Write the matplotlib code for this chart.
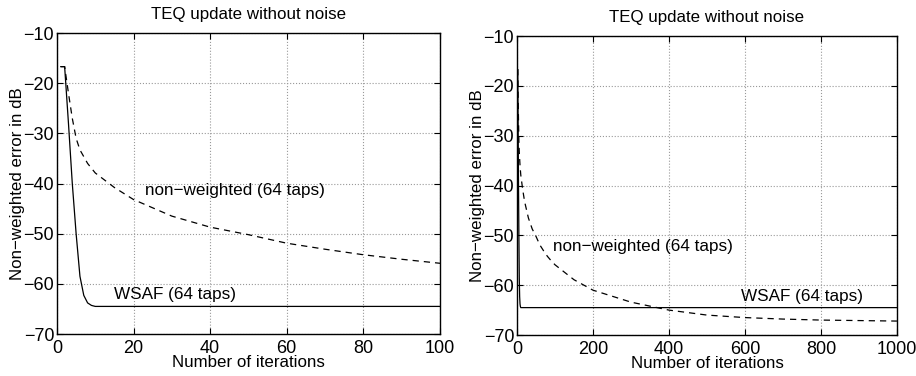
import matplotlib
matplotlib.use('Agg')
import matplotlib.pyplot as plt

plt.rcParams['font.family'] = ['Liberation Sans', 'DejaVu Sans']

# WSAF (64 taps), solid
wsaf_it = [1, 2, 3, 4, 5, 6, 7, 8, 9, 10, 12, 100, 1000]
wsaf_db = [-16.7, -16.7, -28, -40, -50, -58.5, -62.3, -63.8, -64.3, -64.5, -64.5, -64.5, -64.5]

# non-weighted (64 taps), dashed
nw_it = [1, 2, 3, 4, 5, 6, 8, 10, 15, 20, 30, 40, 50, 60, 70, 80, 90, 100,
         150, 200, 300, 400, 500, 600, 700, 800, 900, 1000]
nw_db = [-16.7, -16.7, -22, -27, -31, -33.3, -36, -37.9, -40.8, -43.2, -46.5, -48.7,
         -50.2, -51.9, -53.1, -54.2, -55.1, -55.9, -58.9, -61.0, -63.4, -65.0,
         -66.0, -66.5, -66.8, -67.0, -67.1, -67.2]

titles = ['TEQ update without noise', 'TEQ update without noise']
xlims = [(0, 100), (0, 1000)]
nw_label_pos = [(23, -41.3), (94, -52.2)]
wsaf_label_pos = [(15, -62.2), (590, -62.2)]

fig = plt.figure(figsize=(9.16, 3.76), dpi=100)
axes = [fig.add_axes([0.0622, 0.1117, 0.418, 0.8005]),
        fig.add_axes([0.5644, 0.109, 0.4148, 0.795])]

for i, ax in enumerate(axes):
    ax.plot(wsaf_it, wsaf_db, color='black', lw=0.9)
    ax.plot(nw_it, nw_db, color='black', lw=0.9, ls=(0, (5, 4)))
    ax.set_xlim(*xlims[i])
    ax.set_ylim(-70, -10)
    ax.set_yticks(range(-70, -9, 10))
    ax.grid(True, ls=':', color='#999999', lw=0.8)
    ax.tick_params(direction='in', top=True, right=True, labelsize=13, length=4)
    ax.tick_params(axis='x', pad=4)
    ax.tick_params(axis='y', pad=2)
    for s in ax.spines.values():
        s.set_linewidth(1.0)
    ax.set_title(titles[i], fontsize=12.2, pad=10)
    ax.set_xlabel('Number of iterations', fontsize=12.2, labelpad=-1)
    ax.set_ylabel('Non\u2212weighted error in dB', fontsize=12.2, labelpad=-1)
    ax.text(*nw_label_pos[i], 'non\u2212weighted (64 taps)', fontsize=12.3, va='center')
    ax.text(*wsaf_label_pos[i], 'WSAF (64 taps)', fontsize=12.3, va='center')

fig.savefig('out.png', dpi=100)
